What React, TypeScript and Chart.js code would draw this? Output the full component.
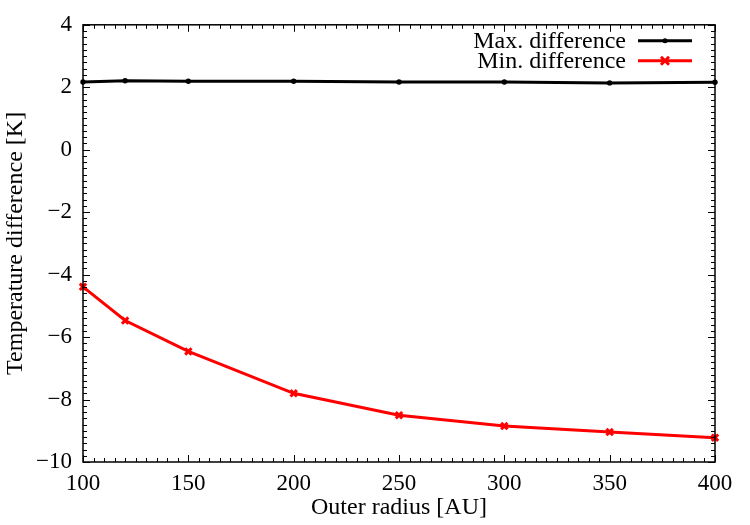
import { useEffect, useRef } from 'react';
import { Chart, registerables } from 'chart.js';

Chart.register(...registerables);

// Outer disc radius [AU] and the temperature differences [K] at each radius
const radii = [100, 120, 150, 200, 250, 300, 350, 400];
const maxDifference = [2.17, 2.21, 2.19, 2.19, 2.17, 2.17, 2.14, 2.16];
const minDifference = [-4.39, -5.47, -6.46, -7.8, -8.5, -8.85, -9.04, -9.22];
const seriesNames = ['Max. difference', 'Min. difference'];
const seriesColors = ['#000000', '#ff0000'];

const xRange = [100, 400];
const xMajorStep = 50;
const xMinorStep = 5;
const yRange = [-10, 4];
const yMajorStep = 2;
const yMinorStep = 0.2;

const xTitle = 'Outer radius [AU]';
const yTitle = 'Temperature difference [K]';

const FONT_FAMILY = '"Liberation Serif", "DejaVu Serif", serif';
const TICK_SIZE = 23;
const TEXT_SIZE = 24;

const fmt = (v: number) => (v < 0 ? '\u2212' + Math.abs(v) : String(v));

// Border with inward major/minor ticks on all four sides, plus the key
const framePlugin = {
  id: 'frameAndKey',
  afterDraw(chart: any) {
    const { ctx, chartArea: a, scales } = chart;
    const xs = scales.x;
    const ys = scales.y;
    ctx.save();
    ctx.strokeStyle = '#000';
    ctx.lineWidth = 1;
    ctx.beginPath();
    const nx = Math.round((xRange[1] - xRange[0]) / xMinorStep);
    for (let i = 0; i <= nx; i++) {
      const v = xRange[0] + i * xMinorStep;
      const major = Math.abs(v % xMajorStep) < 1e-6;
      const len = major ? 7 : 4;
      const px = Math.round(xs.getPixelForValue(v)) + 0.5;
      ctx.moveTo(px, a.bottom);
      ctx.lineTo(px, a.bottom - len);
      ctx.moveTo(px, a.top);
      ctx.lineTo(px, a.top + len);
    }
    const ny = Math.round((yRange[1] - yRange[0]) / yMinorStep);
    for (let i = 0; i <= ny; i++) {
      const v = yRange[0] + i * yMinorStep;
      const major = i % Math.round(yMajorStep / yMinorStep) === 0;
      const len = major ? 7 : 4;
      const py = Math.round(ys.getPixelForValue(v)) + 0.5;
      ctx.moveTo(a.left, py);
      ctx.lineTo(a.left + len, py);
      ctx.moveTo(a.right, py);
      ctx.lineTo(a.right - len, py);
    }
    ctx.stroke();

    ctx.lineWidth = 1.5;
    ctx.strokeRect(a.left, a.top, a.right - a.left, a.bottom - a.top);

    // key, top right inside the plot
    ctx.font = `${TEXT_SIZE}px ${FONT_FAMILY}`;
    ctx.textAlign = 'right';
    ctx.textBaseline = 'middle';
    const textRight = a.right - 89;
    const lineL = a.right - 77;
    const lineR = a.right - 23;
    const mid = (lineL + lineR) / 2;
    seriesNames.forEach((name, i) => {
      const yy = a.top + 16 + i * 20;
      ctx.fillStyle = '#000';
      ctx.fillText(name, textRight, yy + 1);
      ctx.strokeStyle = seriesColors[i];
      ctx.lineWidth = 3;
      ctx.beginPath();
      ctx.moveTo(lineL, yy);
      ctx.lineTo(lineR, yy);
      ctx.stroke();
      if (i === 0) {
        ctx.fillStyle = seriesColors[i];
        ctx.beginPath();
        ctx.arc(mid, yy, 2.5, 0, Math.PI * 2);
        ctx.fill();
      } else {
        const r = 4;
        ctx.lineWidth = 3;
        ctx.beginPath();
        ctx.moveTo(mid - r, yy - r);
        ctx.lineTo(mid + r, yy + r);
        ctx.moveTo(mid - r, yy + r);
        ctx.lineTo(mid + r, yy - r);
        ctx.stroke();
      }
    });
    ctx.restore();
  },
};

export default function App() {
  const canvasRef = useRef<HTMLCanvasElement | null>(null);

  useEffect(() => {
    document.body.style.margin = '0';
    const canvas = canvasRef.current;
    if (!canvas) return;
    const chart = new Chart(canvas, {
      type: 'line',
      data: {
        datasets: [
          {
            label: seriesNames[0],
            data: radii.map((r, i) => ({ x: r, y: maxDifference[i] })),
            borderColor: seriesColors[0],
            backgroundColor: seriesColors[0],
            borderWidth: 3,
            pointStyle: 'circle',
            pointRadius: 2.7,
            pointBorderWidth: 0,
            tension: 0,
            clip: false as any,
          },
          {
            label: seriesNames[1],
            data: radii.map((r, i) => ({ x: r, y: minDifference[i] })),
            borderColor: seriesColors[1],
            backgroundColor: seriesColors[1],
            borderWidth: 3,
            pointStyle: 'crossRot',
            pointRadius: 4.5,
            pointBorderWidth: 3,
            tension: 0,
            clip: false as any,
          },
        ],
      },
      options: {
        animation: false,
        responsive: false,
        maintainAspectRatio: false,
        layout: { padding: { top: 23, right: 35, left: 0, bottom: 0 } },
        plugins: {
          legend: { display: false },
          tooltip: { enabled: false },
        },
        scales: {
          x: {
            type: 'linear',
            min: xRange[0],
            max: xRange[1],
            grid: { display: false, drawTicks: false },
            border: { display: false },
            ticks: {
              stepSize: xMajorStep,
              padding: 8,
              color: '#000',
              font: { family: FONT_FAMILY, size: TICK_SIZE },
              callback: (v: any) => fmt(Number(v)),
              maxRotation: 0,
            },
            title: {
              display: true,
              text: xTitle,
              color: '#000',
              font: { family: FONT_FAMILY, size: TEXT_SIZE },
              padding: { top: 0, bottom: 3 },
            },
            afterFit: (s: any) => {
              s.height = 63;
            },
          },
          y: {
            type: 'linear',
            min: yRange[0],
            max: yRange[1],
            grid: { display: false, drawTicks: false },
            border: { display: false },
            ticks: {
              stepSize: yMajorStep,
              padding: 11,
              color: '#000',
              font: { family: FONT_FAMILY, size: TICK_SIZE },
              callback: (v: any) => fmt(Number(v)),
            },
            title: {
              display: true,
              text: yTitle,
              color: '#000',
              font: { family: FONT_FAMILY, size: TEXT_SIZE },
              padding: { top: 1, bottom: 0 },
            },
            afterFit: (s: any) => {
              s.width = 83;
            },
          },
        },
      },
      plugins: [framePlugin],
    });
    return () => chart.destroy();
  }, []);

  return (
    <div style={{ position: 'fixed', left: 0, top: 0, width: 750, height: 525, background: '#fff' }}>
      <canvas ref={canvasRef} width={750} height={525} />
    </div>
  );
}
